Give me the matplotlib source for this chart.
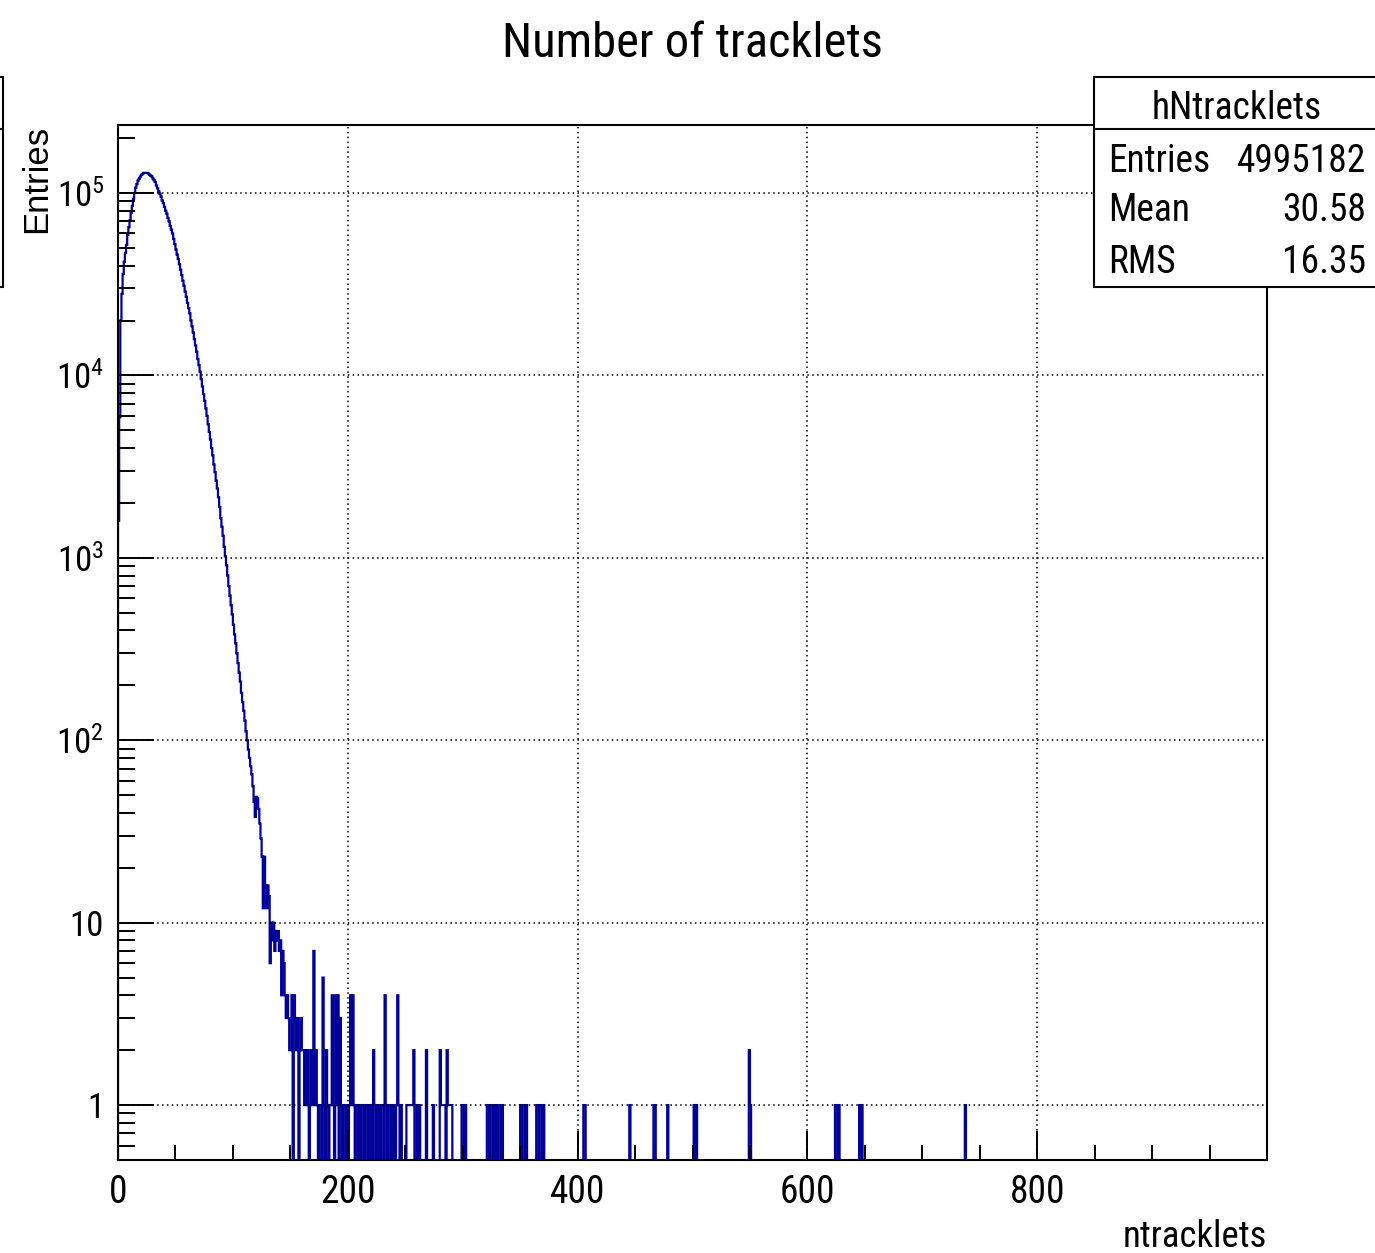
import numpy as np
import matplotlib
matplotlib.use("Agg")
import matplotlib.pyplot as plt
from matplotlib import font_manager as fm
from matplotlib.ticker import FixedLocator, FixedFormatter
from matplotlib.patches import Rectangle
from matplotlib.lines import Line2D

# entries per bin (bin width 1), bins 0..147
body_counts = [
    1600, 5900, 20000, 28000, 36000, 42000, 47000, 52000, 59000, 65000,
    71000, 78000, 85000, 93000, 100000, 107000, 112000, 117000, 120000, 123000,
    126000, 127000, 129000, 129000, 129000, 129000, 128000, 126000, 124500, 123000,
    120000, 117500, 115000, 110000, 106000, 102000, 99000, 95500, 91000, 88000,
    84000, 80000, 77000, 73000, 70000, 66000, 63000, 60000, 56000, 52500,
    49000, 46000, 43500, 40700, 38000, 35500, 33000, 31000, 28800, 27000,
    25000, 23400, 21900, 20000, 18600, 17200, 15800, 14600, 13500, 12300,
    11400, 10500, 9550, 8700, 7900, 7250, 6600, 6000, 5400, 4900,
    4450, 4000, 3650, 3250, 2950, 2650, 2400, 2150, 1900, 1650,
    1480, 1320, 1150, 1020, 910, 800, 700, 620, 550, 490,
    430, 380, 340, 300, 265, 235, 210, 182, 162, 145,
    128, 112, 100, 89, 80, 72, 65, 56, 46, 38,
    49, 48, 42, 35, 29, 23, 12, 23, 16, 12,
    16, 14, 6, 10, 8, 10, 7, 9, 8, 9,
    7, 8, 4, 7, 6, 4, 3, 4,
]

# sparse tail: bin index and entries
tail_bins = [
    148, 149, 150, 151, 153, 154, 155, 156, 158, 159, 160, 161, 162, 163, 164,
    165, 167, 168, 169, 170, 171, 172, 173, 175, 176, 178, 179, 181, 182, 184,
    185, 186, 187, 189, 190, 191, 193, 194, 196, 197, 199, 201, 202, 203, 204,
    205, 207, 208, 210, 212, 213, 215, 216, 218, 220, 222, 223, 225, 227, 229,
    230, 232, 233, 235, 236, 238, 240, 242, 243, 244, 246, 251, 252, 253, 254,
    255, 256, 257, 260, 262, 268, 274, 280, 281, 282, 283, 284, 286, 287, 288,
    289, 290, 299, 300, 302, 321, 322, 324, 325, 327, 329, 331, 332, 334, 350,
    352, 353, 355, 364, 365, 367, 368, 370, 405, 406, 445, 466, 467, 478, 501,
    503, 549, 550, 624, 625, 627, 645, 647, 737,
]
tail_counts = [
    3, 2, 2, 4, 4, 3, 2, 3, 2, 3, 2, 2, 1, 2, 1,
    2, 1, 2, 1, 7, 1, 2, 1, 1, 1, 5, 1, 2, 1, 1,
    1, 4, 1, 4, 1, 4, 3, 1, 1, 1, 1, 1, 4, 1, 4,
    1, 1, 1, 1, 1, 1, 1, 1, 1, 1, 2, 1, 1, 1, 1,
    1, 4, 1, 1, 1, 1, 1, 1, 4, 1, 1, 1, 1, 1, 1,
    1, 1, 2, 1, 1, 2, 1, 2, 1, 1, 1, 1, 2, 1, 1,
    1, 1, 1, 1, 1, 1, 1, 1, 1, 1, 1, 1, 1, 1, 1,
    1, 1, 1, 1, 1, 1, 1, 1, 1, 1, 1, 1, 1, 1, 1,
    1, 2, 1, 1, 1, 1, 1, 1, 1,
]

x_major = [0, 200, 400, 600, 800]
y_major = [1, 10, 100, 1000, 10000, 100000]
y_labels = ["1", "10", r"$10^{2}$", r"$10^{3}$", r"$10^{4}$", r"$10^{5}$"]

title = "Number of tracklets"
x_title = "ntracklets"
y_title = "Entries"
stats_name = "hNtracklets"
stats_labels = ["Entries", "Mean", "RMS"]
stats_values = ["4995182", "30.58", "16.35"]

W, H = 1375, 1253
line_col = "#00009a"

# the reference text is narrow: use a condensed face if one is installed
avail = fm.fontManager.ttflist
names = {f.name for f in avail}
fam, scale = "Liberation Sans", 0.86
for cand in ["Liberation Sans Narrow", "Arial Narrow", "Roboto Condensed",
             "Noto Sans Condensed", "Open Sans Condensed"]:
    if cand in names:
        fam, scale = cand, 1.0
        break

plt.rcParams["font.family"] = [fam, "Liberation Sans", "DejaVu Sans"]
plt.rcParams["mathtext.fontset"] = "custom"
plt.rcParams["mathtext.rm"] = fam
plt.rcParams["mathtext.it"] = fam

fs_title = 35 * scale
fs_xticks = 27 * scale
fs_yticks = 25 * scale
fs_stats = 27 * scale
fs_xtitle = 26.5 * scale


def fx(px):
    return px / W


def fy(py):
    return 1 - py / H


# build the histogram
counts = np.zeros(1000)
counts[: len(body_counts)] = body_counts
for b, c in zip(tail_bins, tail_counts):
    counts[b] = c
edges = np.arange(0, 1001)

fig = plt.figure(figsize=(W / 100, H / 100), dpi=100)
ax = fig.add_axes([fx(118), fy(1160), fx(1267) - fx(118), fy(125) - fy(1160)])

draw = np.where(counts > 0, counts, 1e-3)
ax.stairs(draw, edges, baseline=1e-3, color=line_col, lw=1.6)

ax.set_yscale("log")
ax.set_xlim(0, 1000)
ax.set_ylim(0.5, 2.36e5)

# ticks, root style: inside, bottom and left only
ax.xaxis.set_major_locator(FixedLocator(x_major))
ax.xaxis.set_minor_locator(FixedLocator([v for v in range(50, 1000, 50) if v % 200]))
ax.yaxis.set_major_locator(FixedLocator(y_major))
ax.yaxis.set_major_formatter(FixedFormatter(y_labels))
y_minor = [k / 10 for k in range(6, 10)]
for p in range(0, 6):
    y_minor += [k * 10 ** p for k in range(2, 10)]
ax.yaxis.set_minor_locator(FixedLocator(y_minor))
ax.yaxis.set_minor_formatter(FixedFormatter([""] * len(y_minor)))

ax.tick_params(axis="x", which="major", direction="in", length=21, width=1.4,
               labelsize=fs_xticks, pad=10, top=False)
ax.tick_params(axis="x", which="minor", direction="in", length=11, width=1.4, top=False)
ax.tick_params(axis="y", which="major", direction="in", length=26, width=1.4,
               labelsize=fs_yticks, pad=10, right=False)
ax.tick_params(axis="y", which="minor", direction="in", length=12, width=1.4, right=False)

for s in ax.spines.values():
    s.set_linewidth(1.5)

ax.grid(which="major", color="black", linestyle=(0, (1, 2.2)), lw=1.1)

# titles
fig.text(fx(692), fy(57), title, ha="center", va="baseline", fontsize=fs_title)
fig.text(fx(1267), fy(1247), x_title, ha="right", va="baseline", fontsize=fs_xtitle)
fig.text(fx(37), fy(125), y_title, rotation=90, ha="center", va="top",
         fontsize=25, family=["Liberation Sans", "DejaVu Sans"])

# stats box
fig.add_artist(Rectangle((fx(1094), fy(287)), fx(1400) - fx(1094), fy(77) - fy(287),
                         transform=fig.transFigure, fill=True, facecolor="white",
                         edgecolor="black", lw=1.5))
fig.add_artist(Line2D([fx(1094), fx(1400)], [fy(129), fy(129)],
                      transform=fig.transFigure, color="black", lw=1.5))
fig.text(fx(1237), fy(119), stats_name, ha="center", va="baseline", fontsize=fs_stats)
for i, (lab, val) in enumerate(zip(stats_labels, stats_values)):
    base = [172, 221, 273][i]
    fig.text(fx(1108), fy(base), lab, ha="left", va="baseline", fontsize=fs_stats)
    fig.text(fx(1366), fy(base), val, ha="right", va="baseline", fontsize=fs_stats)

# clipped box at the left edge
fig.add_artist(Rectangle((fx(-60), fy(287)), fx(63), fy(77) - fy(287),
                         transform=fig.transFigure, fill=False,
                         edgecolor="black", lw=1.5))
fig.add_artist(Line2D([fx(-60), fx(3)], [fy(129), fy(129)],
                      transform=fig.transFigure, color="black", lw=1.5))

fig.savefig("out.png", dpi=100)
